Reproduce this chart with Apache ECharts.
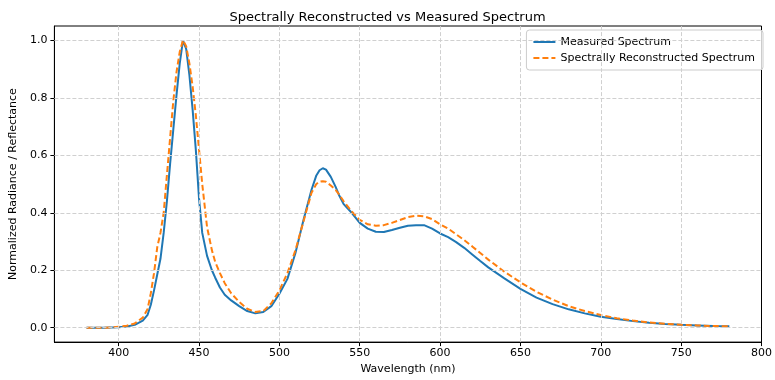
<!DOCTYPE html>
<html>
<head>
<meta charset="utf-8">
<script src="https://cdn.jsdelivr.net/npm/echarts@6/dist/echarts.min.js"></script>
<style>html,body{margin:0;padding:0;background:#fff}#c{width:775px;height:380px}</style>
</head>
<body>
<div id="c"></div>
<script>
const wavelengths = [380,385,390,395,400,405,410,415,418,420,422,424,426,428,430,432,434,436,438,440,442,444,446,448,450,452,455,458,460,463,466,470,475,480,485,490,495,500,505,510,515,520,523,525,527,529,532,535,537,540,545,550,555,560,565,570,575,580,585,590,595,600,605,610,615,620,625,630,640,650,660,670,680,690,700,710,720,730,740,750,760,770,780];
const measured = [0,0,0,0.001,0.002,0.004,0.01,0.025,0.045,0.08,0.13,0.185,0.24,0.33,0.44,0.57,0.69,0.81,0.92,1.0,0.97,0.88,0.76,0.62,0.45,0.33,0.25,0.2,0.175,0.14,0.115,0.095,0.075,0.058,0.05,0.055,0.075,0.118,0.17,0.26,0.375,0.48,0.53,0.548,0.555,0.55,0.525,0.49,0.463,0.43,0.4,0.365,0.345,0.334,0.333,0.34,0.348,0.355,0.357,0.357,0.345,0.328,0.315,0.298,0.278,0.255,0.232,0.21,0.172,0.135,0.105,0.082,0.064,0.05,0.038,0.03,0.023,0.017,0.013,0.01,0.008,0.006,0.005];
const reconstructed = [0,0,0,0.001,0.003,0.007,0.015,0.035,0.065,0.12,0.19,0.28,0.33,0.4,0.53,0.66,0.79,0.89,0.96,1.0,0.98,0.92,0.84,0.74,0.62,0.5,0.35,0.27,0.23,0.19,0.155,0.12,0.09,0.066,0.055,0.058,0.085,0.13,0.19,0.27,0.37,0.47,0.5,0.508,0.51,0.508,0.495,0.48,0.465,0.44,0.405,0.375,0.36,0.355,0.357,0.365,0.375,0.385,0.39,0.388,0.378,0.36,0.345,0.325,0.305,0.283,0.26,0.237,0.195,0.158,0.125,0.098,0.075,0.058,0.044,0.033,0.025,0.018,0.014,0.01,0.008,0.006,0.005];
const xTicks = [400,450,500,550,600,650,700,750,800];
const yTicks = [0,0.2,0.4,0.6,0.8,1.0];
const seriesNames = ['Measured Spectrum','Spectrally Reconstructed Spectrum'];
const titleText = 'Spectrally Reconstructed vs Measured Spectrum';
const xName = 'Wavelength (nm)';
const yName = 'Normalized Radiance / Reflectance';

const font = 'DejaVu Sans';
const chart = echarts.init(document.getElementById('c'), null, {renderer:'canvas'});
const gridStyle = {color:'#d0d0d0', width:1, type:[4,2]};
chart.setOption({
  animation:false,
  backgroundColor:'#fff',
  title:{text:titleText, left:'center', top:6, textStyle:{fontFamily:font, fontSize:13, fontWeight:'normal', color:'#000'}},
  legend:{
    data:[
      {name:seriesNames[0], icon:'path://M0,0H22V2H0Z'},
      {name:seriesNames[1], icon:'path://M0,0H6V2H0Z M9,0H15V2H9Z M18,0H22V2H18Z'}
    ],
    orient:'vertical', right:12, top:30,
    itemWidth:22, itemHeight:2, itemGap:4, padding:[6,8,6,7],
    borderColor:'#cccccc', borderWidth:1, borderRadius:3, backgroundColor:'rgba(255,255,255,0.8)',
    textStyle:{fontFamily:font, fontSize:11, color:'#000', lineHeight:12}
  },
  grid:{left:54, right:9, top:26, bottom:31, show:true, borderColor:'#000', borderWidth:1, backgroundColor:'transparent'},
  xAxis:{
    type:'value', min:360, max:800,
    name:xName, nameLocation:'middle', nameGap:20,
    nameTextStyle:{fontFamily:font, fontSize:11, color:'#000'},
    axisLine:{show:true, onZero:false, lineStyle:{color:'#000', width:1}},
    axisTick:{show:true, length:4, customValues:xTicks, lineStyle:{color:'#000'}},
    axisLabel:{customValues:xTicks, margin:6, fontFamily:font, fontSize:11, color:'#000'},
    splitLine:{show:false}
  },
  yAxis:{
    type:'value', min:-0.05, max:1.05,
    name:yName, nameLocation:'middle', nameGap:28,
    nameTextStyle:{fontFamily:font, fontSize:11, color:'#000'},
    axisLine:{show:true, onZero:false, lineStyle:{color:'#000', width:1}},
    axisTick:{show:true, length:4, customValues:yTicks, lineStyle:{color:'#000'}},
    axisLabel:{customValues:yTicks, margin:7, fontFamily:font, fontSize:11, color:'#000', formatter:v=>Number(v).toFixed(1)},
    splitLine:{show:false}
  },
  series:[
    {
      name:'_grid', type:'line', data:[], z:1, silent:true,
      markLine:{silent:true, symbol:['none','none'], label:{show:false}, animation:false,
        lineStyle:gridStyle,
        data:[...xTicks.filter(v=>v<800).map(v=>({xAxis:v})), ...yTicks.map(v=>({yAxis:v}))]}
    },
    {
      name:seriesNames[0], type:'line', z:3,
      data:wavelengths.map((w,i)=>[w,measured[i]]),
      showSymbol:false, symbol:'none', smooth:false,
      lineStyle:{color:'#1f77b4', width:2}, itemStyle:{color:'#1f77b4'}
    },
    {
      name:seriesNames[1], type:'line', z:4,
      data:wavelengths.map((w,i)=>[w,reconstructed[i]]),
      showSymbol:false, symbol:'none', smooth:false,
      lineStyle:{color:'#ff7f0e', width:2, type:[6,3]}, itemStyle:{color:'#ff7f0e'}
    }
  ]
});
</script>
</body>
</html>
